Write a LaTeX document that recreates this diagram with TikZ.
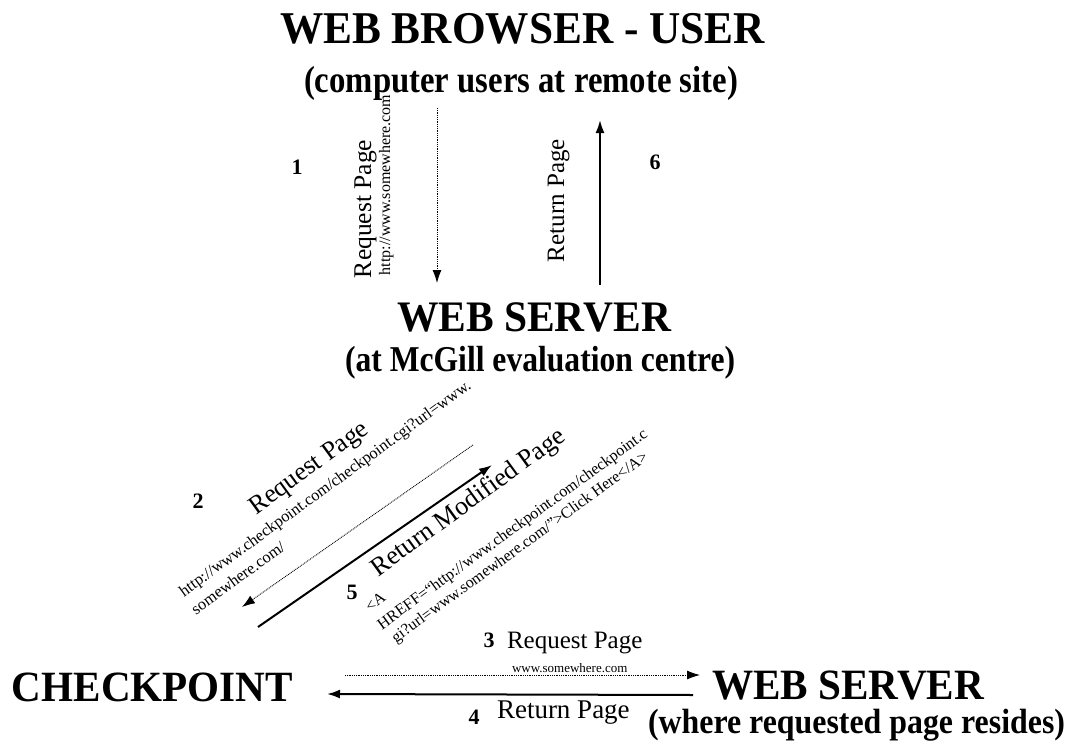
\documentclass[tikz,border=0pt]{standalone}
\usepackage{graphicx}
\usepackage{fontspec}
\setmainfont{Liberation Serif}[BoldFont={Liberation Serif Bold}]
\usetikzlibrary{arrows.meta}
\newcommand\setfs[1]{\fontsize{#1}{#1}\selectfont}
\newcommand\headtxt[3]{\scalebox{1}[#2]{\resizebox{#1}{!}{\setfs{40}\bfseries #3}}}
\begin{document}
\begin{tikzpicture}[x=1pt,y=-1pt,
  every node/.style={inner sep=0pt,outer sep=0pt},
  solidarrow/.style={line width=2pt,-{Latex[length=13pt,width=9pt]}},
  dotarrow/.style={line width=0.9pt,dash pattern=on 0.9pt off 0.9pt,-{Latex[length=13pt,width=9pt]}},
  num/.style={font={\setfs{22}\bfseries}},
  txt/.style={anchor=base west},
  diag/.style={anchor=base west,rotate=36},
  vert/.style={anchor=base west,rotate=90}]
\fill[white] (0,0) rectangle (1074,742);
\useasboundingbox (0,0) rectangle (1074,742);

% headings
\node[txt] (title) at (280,43) {\headtxt{485pt}{1.05}{WEB BROWSER - USER}};
\node[txt] (titlesub) at (304,92) {\headtxt{434pt}{1.15}{(computer users at remote site)}};
\node[txt] (mid) at (397,331) {\headtxt{274pt}{1.05}{WEB SERVER}};
\node[txt] (midsub) at (345,371) {\headtxt{390pt}{1.15}{(at McGill evaluation centre)}};
\node[txt] (check) at (12,701) {\headtxt{281pt}{1.05}{CHECKPOINT}};
\node[txt] (dest) at (712,699) {\headtxt{272pt}{1.05}{WEB SERVER}};
\node[txt] (destsub) at (648,733) {\headtxt{417pt}{1.1}{(where requested page resides)}};

% step numbers
\node[num] (n1) at (297,167) {1};
\node[num] (n6) at (655,162) {6};
\node[num] (n2) at (198,501) {2};
\node[num] (n5) at (352,592) {5};
\node[num] (n3) at (489,640) {3};
\node[num] (n4) at (474,717) {4};

% vertical labels
\node[vert] (rq1) at (371,278) {\setfs{25.5}Request Page};
\node[vert] (url1) at (390,275) {\setfs{16}http://www.somewhere.com};
\node[vert] (rt6) at (564,262) {\setfs{25}Return Page};

% diagonal labels
\node[diag] (rq2) at (256,515) {\setfs{26}Request Page};
\node[diag] (url2a) at (184,597) {\setfs{16.4}http://www.checkpoint.com/checkpoint.cgi?url=www.};
\node[diag] (url2b) at (196,615) {\setfs{16.4}somewhere.com/};
\node[diag] (rt5) at (378,577) {\setfs{26.3}Return Modified Page};
\node[diag] (href1) at (370,612) {\setfs{16}<A};
\node[diag] (href2) at (382,630) {\setfs{16}HREFF=“http://www.checkpoint.com/checkpoint.c};
\node[diag] (href3) at (396,643) {\setfs{16}gi?url=www.somewhere.com/”>Click Here</A>};

% horizontal labels
\node[txt] (rq3) at (507,648) {\setfs{25}Request Page};
\node[txt] (url3) at (512,672) {\setfs{13}www.somewhere.com};
\node[txt] (rt4) at (497,718) {\setfs{27}Return Page};

% connector end points
\coordinate (a1s) at (437,108);
\coordinate (a1e) at (437,283);
\coordinate (a6s) at (600,285);
\coordinate (a6e) at (600,120);
\coordinate (a2s) at (473,445);
\coordinate (a2e) at (242,607);
\coordinate (a5s) at (258,627);
\coordinate (a5e) at (492,465);
\coordinate (a3s) at (345,675);
\coordinate (a3e) at (700,675);
\coordinate (a4s) at (693,695);
\coordinate (a4e) at (327,694);

\draw[dotarrow] (a1s) -- (a1e);
\draw[solidarrow] (a6s) -- (a6e);
\draw[dotarrow] (a2s) -- (a2e);
\draw[solidarrow] (a5s) -- (a5e);
\draw[dotarrow] (a3s) -- (a3e);
\draw[solidarrow] (a4s) -- (a4e);
\end{tikzpicture}
\end{document}
